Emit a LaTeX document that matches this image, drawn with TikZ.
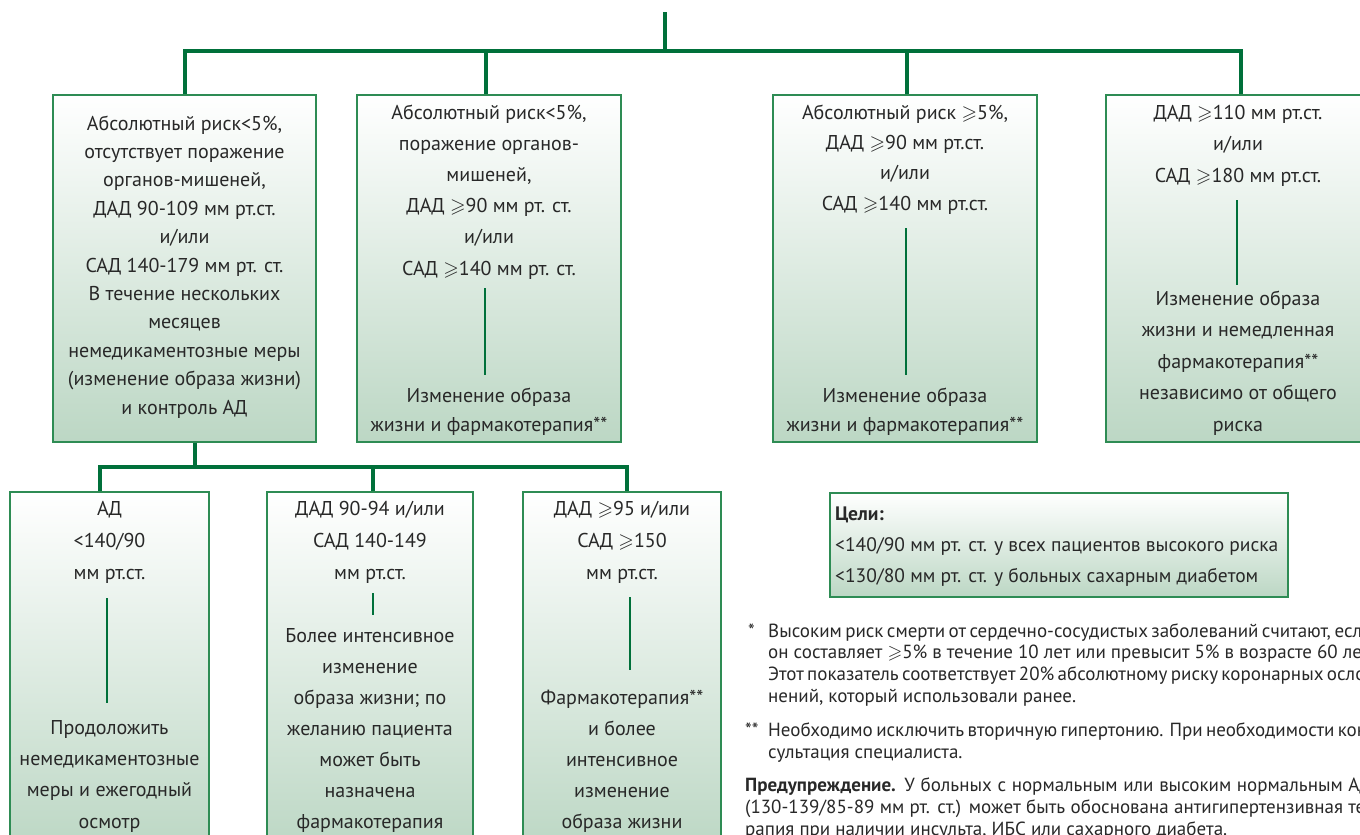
\documentclass[tikz,border=0pt]{standalone}
\usepackage{fontspec}
\usepackage{amssymb}
\usetikzlibrary{calc}
\setmainfont{PT Sans}
\definecolor{lineg}{RGB}{0,112,58}
\definecolor{boxg}{RGB}{46,140,84}
\definecolor{fillg}{RGB}{188,215,196}
\definecolor{txt}{RGB}{40,40,40}
\newcommand{\gsl}{\ensuremath{\geqslant}}
\newcommand{\jline}[2]{\hbox to #1{#2}}
\begin{document}
\begin{tikzpicture}[x=1pt,y=-1pt,
  box/.style={draw=boxg, line width=1.2pt, top color=white, bottom color=fillg, inner sep=0pt},
  conn/.style={draw=lineg, line width=4pt},
  innerline/.style={draw=lineg, line width=2.6pt},
  btext/.style={text=txt, align=center, inner sep=0pt, anchor=base},
  gtext/.style={text=txt, align=left, inner sep=0pt, anchor=base west, font=\fontsize{19.5}{31}\selectfont},
  fntext/.style={text=txt, inner sep=0pt, anchor=base west, font=\fontsize{19}{22}\selectfont}]
\useasboundingbox (0,0) rectangle (1360,835);
\clip (0,0) rectangle (1360,835);

% boxes
\node[box, minimum width=263pt, minimum height=347pt] (b1) at (184.5,268.5) {};
\node[box, minimum width=264pt, minimum height=347pt] (b2) at (489,268.5) {};
\node[box, minimum width=264pt, minimum height=347pt] (b3) at (905,268.5) {};
\node[box, minimum width=264pt, minimum height=347pt] (b4) at (1238,268.5) {};
\node[box, minimum width=199pt, minimum height=358pt] (ba) at (109.5,671) {};
\node[box, minimum width=206pt, minimum height=358pt] (bb) at (370,671) {};
\node[box, minimum width=198pt, minimum height=358pt] (bc) at (622,671) {};
\node[box, minimum width=458pt, minimum height=104pt] (goals) at (1059,545) {};

% connectors
\coordinate (root) at (665,12);
\coordinate (bar) at (665,52);
\draw[conn] (root) -- (bar);
\draw[conn] (b1.north) -- ++(0,-43) -| ($(b4.north)+(3,0)$);
\draw[conn] ($(b2.north)+(-3,0)$) -- ++(0,-43);
\draw[conn] ($(b3.north)+(2,0)$) -- ++(0,-43);
\draw[conn] ($(b1.south)+(10.5,0)$) -- ++(0,26);
\draw[conn] ($(ba.north)+(-9.5,0)$) -- ++(0,-24) -| ($(bc.north)+(5,0)$);
\draw[conn] ($(bb.north)+(3,0)$) -- ++(0,-24);

% box texts (anchor = baseline of the last line)
\node[btext, font=\fontsize{20}{28.4}\selectfont] (b1t) at (184.5,414) {Абсолютный риск<5\%,\\отсутствует поражение\\органов-мишеней,\\ДАД 90-109 мм рт.ст.\\и/или\\САД 140-179 мм рт. ст.\\В течение нескольких\\месяцев\\немедикаментозные меры\\(изменение образа жизни)\\и контроль АД};

\node[btext, font=\fontsize{20}{31.2}\selectfont] (b2t) at (489,275) {Абсолютный риск<5\%,\\поражение органов-\\мишеней,\\ДАД \gsl90 мм рт. ст.\\и/или\\САД \gsl140 мм рт. ст.};
\node[btext, font=\fontsize{20}{29}\selectfont] (b2b) at (489,431) {Изменение образа\\жизни и фармакотерапия**};
\coordinate (b2i1) at (485,288);
\coordinate (b2i2) at (485,375);
\draw[innerline] (b2i1) -- (b2i2);

\node[btext, font=\fontsize{20}{30.3}\selectfont] (b3t) at (905,210) {Абсолютный риск \gsl5\%,\\ДАД \gsl90 мм рт.ст.\\и/или\\САД \gsl140 мм рт.ст.};
\node[btext, font=\fontsize{20}{29}\selectfont] (b3b) at (905,431) {Изменение образа\\жизни и фармакотерапия**};
\coordinate (b3i1) at (906,228);
\coordinate (b3i2) at (906,375);
\draw[innerline] (b3i1) -- (b3i2);

\node[btext, font=\fontsize{20}{31.5}\selectfont] (b4t) at (1238,182) {ДАД \gsl110 мм рт.ст.\\и/или\\САД \gsl180 мм рт.ст.};
\node[btext, font=\fontsize{20}{31.5}\selectfont] (b4b) at (1238,431) {Изменение образа\\жизни и немедленная\\фармакотерапия**\\независимо от общего\\риска};
\coordinate (b4i1) at (1237,200);
\coordinate (b4i2) at (1237,285);
\draw[innerline] (b4i1) -- (b4i2);

\node[btext, font=\fontsize{20}{32}\selectfont] (bat) at (109.5,579) {АД\\<140/90\\мм рт.ст.};
\node[btext, font=\fontsize{20}{31.3}\selectfont] (bab) at (109.5,828) {Продоложить\\немедикаментозные\\меры и ежегодный\\осмотр};
\coordinate (bai1) at (107,598);
\coordinate (bai2) at (107,703);
\draw[innerline] (bai1) -- (bai2);

\node[btext, font=\fontsize{20}{32}\selectfont] (bbt) at (370,579) {ДАД 90-94 и/или\\САД 140-149\\мм рт.ст.};
\node[btext, font=\fontsize{20}{31}\selectfont] (bbb) at (370,828) {Более интенсивное\\изменение\\образа жизни; по\\желанию пациента\\может быть\\назначена\\фармакотерапия};
\coordinate (bbi1) at (373,593);
\coordinate (bbi2) at (373,615);
\draw[innerline] (bbi1) -- (bbi2);

\node[btext, font=\fontsize{20}{32}\selectfont] (bct) at (622,579) {ДАД \gsl95 и/или\\САД \gsl150\\мм рт.ст.};
\node[btext, font=\fontsize{20}{31}\selectfont] (bcb) at (622,828) {Фармакотерапия**\\и более\\интенсивное\\изменение\\образа жизни};
\coordinate (bci1) at (630,597);
\coordinate (bci2) at (630,670);
\draw[innerline] (bci1) -- (bci2);

% goals
\node[gtext] (goalst) at (835,582) {\textbf{Цели:}\\<140/90 мм рт. ст. у всех пациентов высокого риска\\<130/80 мм рт. ст. у больных сахарным диабетом};

% footnotes
\node[fntext] (fn1m) at (748,637) {*};
\node[fntext] (fn1) at (768,637) {\vtop{\baselineskip=21.7pt
 \jline{604pt}{Высоким риск смерти от сердечно-сосудистых заболеваний считают, если}
 \jline{604pt}{он составляет \gsl5\% в течение 10 лет или превысит 5\% в возрасте 60 лет.}
 \jline{604pt}{Этот показатель соответствует 20\% абсолютному риску коронарных ослож-}
 \hbox{нений, который использовали ранее.}}};
\node[fntext] (fn2m) at (745,736) {**};
\node[fntext] (fn2) at (768,736) {\vtop{\baselineskip=22pt
 \jline{604pt}{Необходимо исключить вторичную гипертонию. При необходимости кон-}
 \hbox{сультация специалиста.}}};
\node[fntext] (fn3) at (745,791) {\vtop{\baselineskip=22pt
 \jline{627pt}{\textbf{Предупреждение.} У больных с нормальным или высоким нормальным АД}
 \jline{627pt}{(130-139/85-89 мм рт. ст.) может быть обоснована антигипертензивная те-}
 \hbox{рапия при наличии инсульта, ИБС или сахарного диабета.}}};
\end{tikzpicture}
\end{document}
